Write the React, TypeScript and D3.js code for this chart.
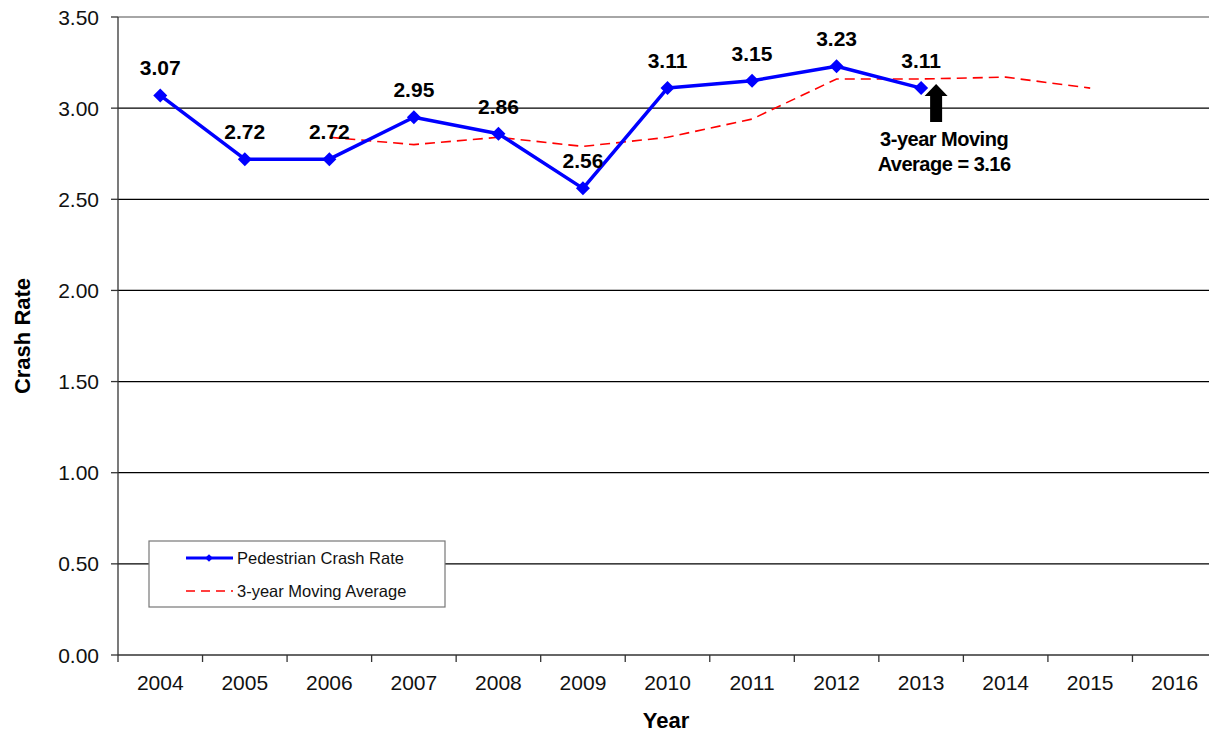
import React, { useEffect, useRef } from "react";
import * as d3 from "d3";

// chart values
const years = ["2004", "2005", "2006", "2007", "2008", "2009", "2010", "2011", "2012", "2013", "2014", "2015", "2016"];
const crashYears = ["2004", "2005", "2006", "2007", "2008", "2009", "2010", "2011", "2012", "2013"];
const crashRate = [3.07, 2.72, 2.72, 2.95, 2.86, 2.56, 3.11, 3.15, 3.23, 3.11];
const avgYears = ["2006", "2007", "2008", "2009", "2010", "2011", "2012", "2013", "2014", "2015"];
const movingAvg = [2.84, 2.8, 2.84, 2.79, 2.84, 2.94, 3.16, 3.16, 3.17, 3.11];
const yTicks = [0, 0.5, 1, 1.5, 2, 2.5, 3, 3.5];
const legendLabels = ["Pedestrian Crash Rate", "3-year Moving Average"];
const noteLines = ["3-year Moving", "Average = 3.16"];
const noteYear = "2013";

export default function App() {
  const ref = useRef<SVGSVGElement>(null);

  useEffect(() => {
    const svg = d3.select(ref.current);
    svg.selectAll("*").remove();

    const left = 118,
      right = 1217,
      top = 17,
      bottom = 655;
    const font = "Arial, 'Liberation Sans', sans-serif";

    const x = d3.scaleBand().domain(years).range([left, right]);
    const cx = (d: string) => (x(d) as number) + x.bandwidth() / 2;
    const y = d3.scaleLinear().domain([0, 3.5]).range([bottom, top]);

    // top border
    svg
      .append("line")
      .attr("x1", left)
      .attr("x2", right)
      .attr("y1", y(3.5))
      .attr("y2", y(3.5))
      .attr("stroke", "#888")
      .attr("stroke-width", 1.3);

    // gridlines
    svg
      .append("g")
      .selectAll("line")
      .data(yTicks.filter((t) => t > 0 && t < 3.5))
      .enter()
      .append("line")
      .attr("x1", left)
      .attr("x2", right)
      .attr("y1", (d) => y(d))
      .attr("y2", (d) => y(d))
      .attr("stroke", "#000")
      .attr("stroke-width", 1.3);

    // y axis
    const yAxis = svg.append("g");
    yAxis
      .append("line")
      .attr("x1", left)
      .attr("x2", left)
      .attr("y1", top)
      .attr("y2", bottom)
      .attr("stroke", "#333")
      .attr("stroke-width", 1.3);
    yAxis
      .selectAll("line.tick")
      .data(yTicks)
      .enter()
      .append("line")
      .attr("class", "tick")
      .attr("x1", left - 7)
      .attr("x2", left)
      .attr("y1", (d) => y(d))
      .attr("y2", (d) => y(d))
      .attr("stroke", "#333")
      .attr("stroke-width", 1.3);
    yAxis
      .selectAll("text")
      .data(yTicks)
      .enter()
      .append("text")
      .attr("x", 99)
      .attr("y", (d) => y(d) + 7.5)
      .attr("text-anchor", "end")
      .style("font-family", font)
      .style("font-size", "21px")
      .attr("fill", "#111")
      .text((d) => d3.format(".2f")(d));

    // x axis
    const xAxis = svg.append("g");
    xAxis
      .append("line")
      .attr("x1", left)
      .attr("x2", right)
      .attr("y1", bottom)
      .attr("y2", bottom)
      .attr("stroke", "#333")
      .attr("stroke-width", 1.3);
    xAxis
      .selectAll("line.tick")
      .data(years)
      .enter()
      .append("line")
      .attr("class", "tick")
      .attr("x1", (d) => x(d) as number)
      .attr("x2", (d) => x(d) as number)
      .attr("y1", bottom)
      .attr("y2", bottom + 7)
      .attr("stroke", "#333")
      .attr("stroke-width", 1.3);
    xAxis
      .selectAll("text")
      .data(years)
      .enter()
      .append("text")
      .attr("x", (d) => cx(d))
      .attr("y", 689.5)
      .attr("text-anchor", "middle")
      .style("font-family", font)
      .style("font-size", "21px")
      .attr("fill", "#111")
      .text((d) => d);

    // axis titles
    svg
      .append("text")
      .attr("transform", "translate(30, 336) rotate(-90)")
      .attr("text-anchor", "middle")
      .style("font-family", font)
      .style("font-size", "22px")
      .style("font-weight", "bold")
      .text("Crash Rate");
    svg
      .append("text")
      .attr("x", 666)
      .attr("y", 728)
      .attr("text-anchor", "middle")
      .style("font-family", font)
      .style("font-size", "22px")
      .style("font-weight", "bold")
      .text("Year");

    // moving average line
    const avgData = avgYears.map((yr, i) => ({ yr, v: movingAvg[i] }));
    svg
      .append("path")
      .datum(avgData)
      .attr("fill", "none")
      .attr("stroke", "#ff0000")
      .attr("stroke-width", 1.6)
      .attr("stroke-dasharray", "10,6")
      .attr(
        "d",
        d3
          .line<{ yr: string; v: number }>()
          .x((d) => cx(d.yr))
          .y((d) => y(d.v))
      );

    // crash rate line
    const rateData = crashYears.map((yr, i) => ({ yr, v: crashRate[i] }));
    svg
      .append("path")
      .datum(rateData)
      .attr("fill", "none")
      .attr("stroke", "#0000ff")
      .attr("stroke-width", 3.5)
      .attr("stroke-linejoin", "round")
      .attr(
        "d",
        d3
          .line<{ yr: string; v: number }>()
          .x((d) => cx(d.yr))
          .y((d) => y(d.v))
      );
    const diamond = d3.symbol().type(d3.symbolSquare).size(98);
    svg
      .append("g")
      .selectAll("path")
      .data(rateData)
      .enter()
      .append("path")
      .attr("d", diamond)
      .attr("transform", (d) => `translate(${cx(d.yr)}, ${y(d.v)}) rotate(45)`)
      .attr("fill", "#0000ff");

    // value labels
    svg
      .append("g")
      .selectAll("text")
      .data(rateData)
      .enter()
      .append("text")
      .attr("x", (d) => cx(d.yr))
      .attr("y", (d) => y(d.v) - 20)
      .attr("text-anchor", "middle")
      .style("font-family", font)
      .style("font-size", "21px")
      .style("font-weight", "bold")
      .text((d) => d3.format(".2f")(d.v));

    // arrow annotation
    const ax = cx(noteYear) + 15;
    const ay = y(movingAvg[avgYears.indexOf(noteYear)]);
    svg
      .append("path")
      .attr(
        "d",
        `M${ax},${ay + 5} L${ax + 11.5},${ay + 17} L${ax + 6},${ay + 17} L${ax + 6},${ay + 43} L${ax - 6},${ay + 43} L${ax - 6},${ay + 17} L${ax - 11.5},${ay + 17} Z`
      )
      .attr("fill", "#000");
    svg
      .append("g")
      .selectAll("text")
      .data(noteLines)
      .enter()
      .append("text")
      .attr("x", ax + 8)
      .attr("y", (d, i) => ay + 67 + i * 25)
      .attr("text-anchor", "middle")
      .style("font-family", font)
      .style("font-size", "20px")
      .style("font-weight", "bold")
      .style("letter-spacing", "-0.5px")
      .text((d) => d);

    // legend
    const legend = svg.append("g").attr("transform", "translate(149, 541)");
    legend
      .append("rect")
      .attr("width", 296)
      .attr("height", 66)
      .attr("fill", "#fff")
      .attr("stroke", "#777")
      .attr("stroke-width", 1.2);
    legend
      .append("line")
      .attr("x1", 37)
      .attr("x2", 84)
      .attr("y1", 17)
      .attr("y2", 17)
      .attr("stroke", "#0000ff")
      .attr("stroke-width", 3);
    legend
      .append("path")
      .attr("d", d3.symbol().type(d3.symbolSquare).size(30))
      .attr("transform", "translate(60, 17) rotate(45)")
      .attr("fill", "#0000ff");
    legend
      .append("line")
      .attr("x1", 37)
      .attr("x2", 84)
      .attr("y1", 50)
      .attr("y2", 50)
      .attr("stroke", "#ff0000")
      .attr("stroke-width", 1.5)
      .attr("stroke-dasharray", "9,6");
    legend
      .selectAll("text")
      .data(legendLabels)
      .enter()
      .append("text")
      .attr("x", 88)
      .attr("y", (d, i) => 22.5 + i * 33)
      .style("font-family", font)
      .style("font-size", "16.5px")
      .attr("fill", "#111")
      .text((d) => d);
  }, []);

  return (
    <div style={{ position: "absolute", left: 0, top: 0 }}>
      <svg ref={ref} width={1209} height={735} style={{ display: "block", background: "#fff" }}></svg>
    </div>
  );
}
